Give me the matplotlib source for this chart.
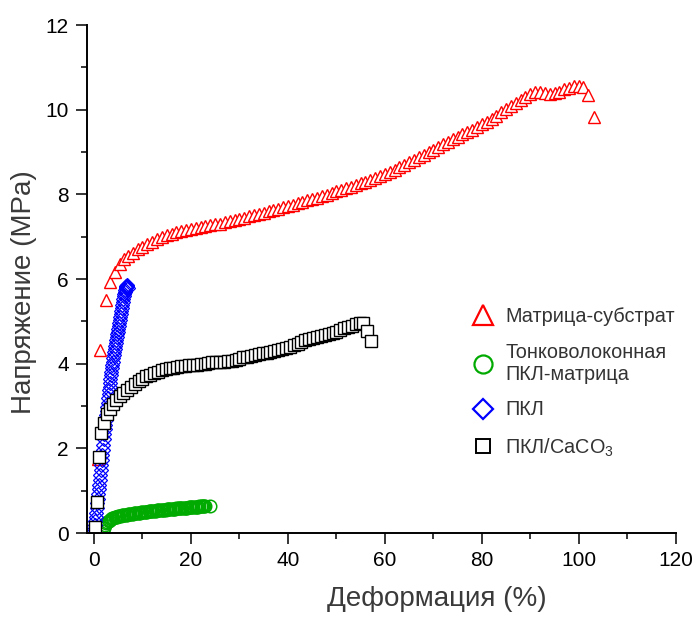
import matplotlib
matplotlib.use("Agg")
import matplotlib.pyplot as plt
from matplotlib.lines import Line2D
from matplotlib.ticker import MultipleLocator

plt.rcParams['font.family'] = ['Liberation Sans', 'DejaVu Sans']
plt.rcParams['mathtext.fontset'] = 'custom'
plt.rcParams['mathtext.rm'] = 'Liberation Sans'

# Матрица-субстрат
matrix_x = [0.8, 1.3, 2.4, 3.3, 4.3, 5.3, 6.2, 7.0,
            8, 9, 10, 11, 12, 13, 14, 15, 16, 17, 18, 19, 20,
            21, 22, 23, 24, 25, 26, 27, 28, 29, 30,
            31, 32, 33, 34, 35, 36, 37, 38, 39, 40,
            41, 42, 43, 44, 45, 46, 47, 48, 49, 50,
            51, 52, 53, 54, 55, 56, 57, 58, 59, 60,
            61, 62, 63, 64, 65, 66, 67, 68, 69, 70,
            71, 72, 73, 74, 75, 76, 77, 78, 79, 80,
            81, 82, 83, 84, 85, 86, 87, 88, 89, 90,
            91, 92, 93, 94, 95, 96, 97, 98, 99, 100,
            100.8, 102.0, 103.1]
matrix_y = [1.75, 4.33, 5.50, 5.93, 6.17, 6.36, 6.47, 6.55,
            6.62, 6.70, 6.76, 6.82, 6.88, 6.94, 6.99, 7.03, 7.07, 7.10, 7.13, 7.16, 7.18,
            7.20, 7.23, 7.25, 7.27, 7.29, 7.31, 7.34, 7.36, 7.39, 7.42,
            7.45, 7.48, 7.51, 7.54, 7.57, 7.60, 7.63, 7.66, 7.69, 7.72,
            7.75, 7.79, 7.82, 7.86, 7.89, 7.92, 7.96, 7.99, 8.03, 8.07,
            8.11, 8.14, 8.18, 8.22, 8.26, 8.30, 8.34, 8.38, 8.43, 8.48,
            8.53, 8.58, 8.64, 8.70, 8.76, 8.82, 8.88, 8.94, 9.00, 9.06,
            9.12, 9.18, 9.24, 9.30, 9.36, 9.42, 9.47, 9.53, 9.59, 9.66,
            9.72, 9.79, 9.86, 9.94, 10.01, 10.08, 10.15, 10.22, 10.29, 10.36,
            10.42, 10.43, 10.39, 10.37, 10.39, 10.43, 10.48, 10.52, 10.55, 10.56,
            10.54, 10.35, 9.83]

# Тонковолоконная ПКЛ-матрица
fiber_x = [1.8, 2.0, 2.25, 2.5, 2.75, 3.0, 3.25, 3.5, 3.75, 4.0, 4.25, 4.5, 4.75, 5.0,
           5.25, 5.5, 5.75, 6.0, 6.25, 6.5, 6.75, 7.0, 7.25, 7.5, 7.75, 8.0,
           8.25, 8.5, 8.75, 9.0, 9.25, 9.5, 9.75, 10.0, 10.25, 10.5, 10.75, 11.0,
           11.25, 11.5, 11.75, 12.0, 12.25, 12.5, 12.75, 13.0, 13.25, 13.5, 13.75, 14.0,
           14.25, 14.5, 14.75, 15.0, 15.25, 15.5, 15.75, 16.0, 16.25, 16.5, 16.75, 17.0,
           17.25, 17.5, 17.75, 18.0, 18.25, 18.5, 18.75, 19.0, 19.25, 19.5, 19.75, 20.0,
           20.25, 20.5, 20.75, 21.0, 21.25, 21.5, 21.75, 22.0, 22.25, 22.5, 22.75, 23.0, 23.9]
fiber_y = [0.05, 0.12, 0.18, 0.23, 0.26, 0.29, 0.31, 0.33, 0.345, 0.36, 0.37, 0.38, 0.39, 0.40,
           0.405, 0.41, 0.415, 0.42, 0.425, 0.43, 0.435, 0.44, 0.445, 0.45, 0.455, 0.46,
           0.465, 0.47, 0.473, 0.476, 0.48, 0.484, 0.487, 0.49, 0.495, 0.50, 0.503, 0.506,
           0.51, 0.513, 0.516, 0.52, 0.523, 0.526, 0.53, 0.533, 0.536, 0.54, 0.543, 0.546,
           0.55, 0.552, 0.555, 0.558, 0.562, 0.565, 0.568, 0.57, 0.573, 0.576, 0.578, 0.58,
           0.583, 0.586, 0.588, 0.59, 0.593, 0.596, 0.598, 0.60, 0.603, 0.606, 0.608, 0.61,
           0.613, 0.616, 0.618, 0.62, 0.623, 0.626, 0.628, 0.63, 0.633, 0.636, 0.638, 0.64, 0.64]

# ПКЛ
pcl_x = [0.0, 0.1, 0.2, 0.3, 0.4, 0.5, 0.6, 0.7, 0.8, 0.9,
         1.0, 1.1, 1.2, 1.3, 1.4, 1.5, 1.6, 1.7, 1.8, 1.9,
         2.0, 2.1, 2.2, 2.3, 2.4, 2.5, 2.6, 2.7, 2.8, 2.9,
         3.0, 3.1, 3.2, 3.3, 3.4, 3.5, 3.6, 3.7, 3.8, 3.9,
         4.0, 4.1, 4.2, 4.3, 4.4, 4.5, 4.6, 4.7, 4.8, 4.9,
         5.0, 5.1, 5.2, 5.3, 5.4, 5.5, 5.6, 5.7, 5.8, 5.9,
         6.0, 6.1, 6.2, 6.3, 6.4, 6.5, 6.6, 6.7, 6.8, 6.9, 7.0]
pcl_y = [0.00, 0.09, 0.18, 0.28, 0.38, 0.48, 0.59, 0.70, 0.81, 0.92,
         1.03, 1.14, 1.25, 1.37, 1.49, 1.61, 1.73, 1.85, 1.97, 2.09,
         2.21, 2.33, 2.45, 2.56, 2.67, 2.78, 2.88, 2.98, 3.08, 3.18,
         3.28, 3.37, 3.46, 3.55, 3.64, 3.73, 3.81, 3.89, 3.97, 4.05,
         4.13, 4.20, 4.27, 4.34, 4.41, 4.48, 4.55, 4.62, 4.69, 4.76,
         4.83, 4.90, 4.97, 5.04, 5.11, 5.18, 5.25, 5.32, 5.39, 5.46,
         5.53, 5.59, 5.65, 5.70, 5.75, 5.79, 5.82, 5.84, 5.85, 5.83, 5.80]

# ПКЛ/CaCO3
caco_x = [0.2, 0.6, 1.0, 1.5, 2.1, 2.7, 3.3, 3.9, 4.6, 5.3, 6.0, 6.8, 7.6, 8.4,
          9.2, 10.0, 10.8, 11.6, 12.4, 13.2, 14.0, 14.8, 15.6, 16.4, 17.2, 18.0,
          18.8, 19.6, 20.4, 21.2, 22.0, 22.8, 23.6, 24.4, 25.2, 26.0, 26.8, 27.6,
          28.4, 29.2, 30.0, 30.8, 31.6, 32.4, 33.2, 34.0, 34.8, 35.6, 36.4, 37.2,
          38.0, 38.8, 39.6, 40.4, 41.2, 42.0, 42.8, 43.6, 44.4, 45.2, 46.0, 46.8,
          47.6, 48.4, 49.2, 50.0, 50.8, 51.6, 52.4, 53.2, 54.0, 54.8, 55.5, 56.3,
          57.1]
caco_y = [0.14, 0.73, 1.80, 2.36, 2.60, 2.80, 2.93, 3.04, 3.14, 3.23, 3.31, 3.39,
          3.46, 3.53, 3.59, 3.65, 3.70, 3.74, 3.78, 3.81, 3.84, 3.87, 3.89, 3.91,
          3.93, 3.94, 3.95, 3.96, 3.97, 3.98, 3.99, 4.00, 4.01, 4.03, 4.04, 4.05,
          4.05, 4.06, 4.07, 4.09, 4.12, 4.15, 4.17, 4.19, 4.21, 4.23, 4.25, 4.26,
          4.28, 4.30, 4.32, 4.34, 4.36, 4.39, 4.43, 4.47, 4.51, 4.55, 4.58, 4.61,
          4.63, 4.65, 4.67, 4.70, 4.73, 4.76, 4.80, 4.84, 4.87, 4.90, 4.93, 4.95,
          4.97, 4.78, 4.54]

labels = ['Матрица-субстрат', 'Тонковолоконная\nПКЛ-матрица', 'ПКЛ', 'ПКЛ/CaCO$_3$']
colors = ['#ff0000', '#00aa00', '#0000ff', '#000000']

fig = plt.figure(figsize=(6.96, 6.17), dpi=100)
ax = fig.add_axes([0.1246, 0.1361, 0.8463, 0.8233])

ax.plot(matrix_x, matrix_y, ls='none', marker='^', ms=9.0, mew=1.0,
        mfc='white', mec=colors[0])
# fibre mat and plain PCL have hundreds of overlapping hollow markers
ax.plot(fiber_x, fiber_y, ls='none', marker='o', ms=9.0, mew=1.1,
        mfc='none', mec=colors[1])
ax.plot(pcl_x, pcl_y, ls='none', marker='D', ms=7.4, mew=0.9,
        mfc='none', mec=colors[2])
ax.plot(caco_x, caco_y, ls='none', marker='s', ms=8.4, mew=1.0,
        mfc='white', mec=colors[3])

ax.set_xlim(-1.5, 120)
ax.set_ylim(0, 12)
ax.xaxis.set_major_locator(MultipleLocator(20))
ax.xaxis.set_minor_locator(MultipleLocator(10))
ax.yaxis.set_major_locator(MultipleLocator(2))
ax.yaxis.set_minor_locator(MultipleLocator(1))
ax.tick_params(which='major', direction='out', length=8, width=1.1,
               labelsize=15, pad=5)
ax.tick_params(which='minor', direction='out', length=4.5, width=1.1)
for side in ['top', 'right']:
    ax.spines[side].set_visible(False)
for side in ['left', 'bottom']:
    ax.spines[side].set_linewidth(1.4)

ax.set_xlabel('Деформация (%)', fontsize=20, color='#3a3a3a')
ax.set_ylabel('Напряжение (MPa)', fontsize=20, color='#3a3a3a')
ax.xaxis.set_label_coords(0.595, -0.105)
ax.yaxis.set_label_coords(-0.085, 0.474)

handles = [
    Line2D([], [], ls='none', marker='^', ms=14, mew=1.6, mfc='white', mec=colors[0]),
    Line2D([], [], ls='none', marker='o', ms=13, mew=1.6, mfc='white', mec=colors[1]),
    Line2D([], [], ls='none', marker='D', ms=10.5, mew=1.6, mfc='white', mec=colors[2]),
    Line2D([], [], ls='none', marker='s', ms=10, mew=1.4, mfc='white', mec=colors[3]),
]
leg = ax.legend(handles, labels, loc='center left', bbox_to_anchor=(0.643, 0.296),
                frameon=False, fontsize=14.3, handlelength=1.0, handletextpad=0.6,
                labelspacing=0.85, borderaxespad=0)
for t in leg.get_texts():
    t.set_color('#333333')

fig.savefig('out.png', dpi=100)
